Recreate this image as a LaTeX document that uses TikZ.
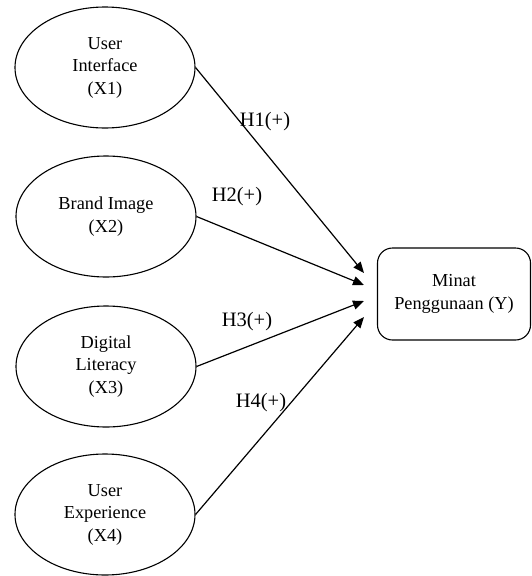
\documentclass[tikz,border=0pt]{standalone}
\usepackage{fontspec}
\setmainfont{Liberation Serif}
\usetikzlibrary{shapes.geometric,arrows.meta}
\begin{document}
\begin{tikzpicture}[x=1pt,y=-1pt,
  var/.style={draw,ellipse,line width=1.1pt,minimum width=180pt,minimum height=121pt,inner sep=0pt,align=center,font=\fontsize{18.3}{22.5}\selectfont},
  target/.style={draw,rectangle,rounded corners=15pt,line width=1.1pt,minimum width=153pt,minimum height=92pt,inner sep=0pt,align=center,font=\fontsize{18.3}{23}\selectfont},
  hyp/.style={font=\fontsize{20.5}{24}\selectfont,inner sep=0pt},
  link/.style={line width=1.2pt,-{Triangle[length=11pt,width=9pt]}}]
\useasboundingbox (0,0) rectangle (532,576);
\node[var] (x1) at (105,67.5) {User\\Interface\\(X1)};
\node[var] (x2) at (106,216.5) {Brand Image\\(X2)};
\node[var] (x3) at (106,366.5) {Digital\\Literacy\\(X3)};
\node[var] (x4) at (105,514.5) {User\\Experience\\(X4)};
\node[target] (y) at (454,294) {Minat\\Penggunaan (Y)};
\coordinate (t1) at (364,273);
\coordinate (t2) at (364,285);
\coordinate (t3) at (364,301);
\coordinate (t4) at (364,317);
\draw[link] (x1.east) -- (t1);
\draw[link] (x2.east) -- (t2);
\draw[link] (x3.east) -- (t3);
\draw[link] (x4.east) -- (t4);
\node[hyp] (h1) at (265,122) {H1(+)};
\node[hyp] (h2) at (237,197) {H2(+)};
\node[hyp] (h3) at (247,322) {H3(+)};
\node[hyp] (h4) at (261,403) {H4(+)};
\end{tikzpicture}
\end{document}
